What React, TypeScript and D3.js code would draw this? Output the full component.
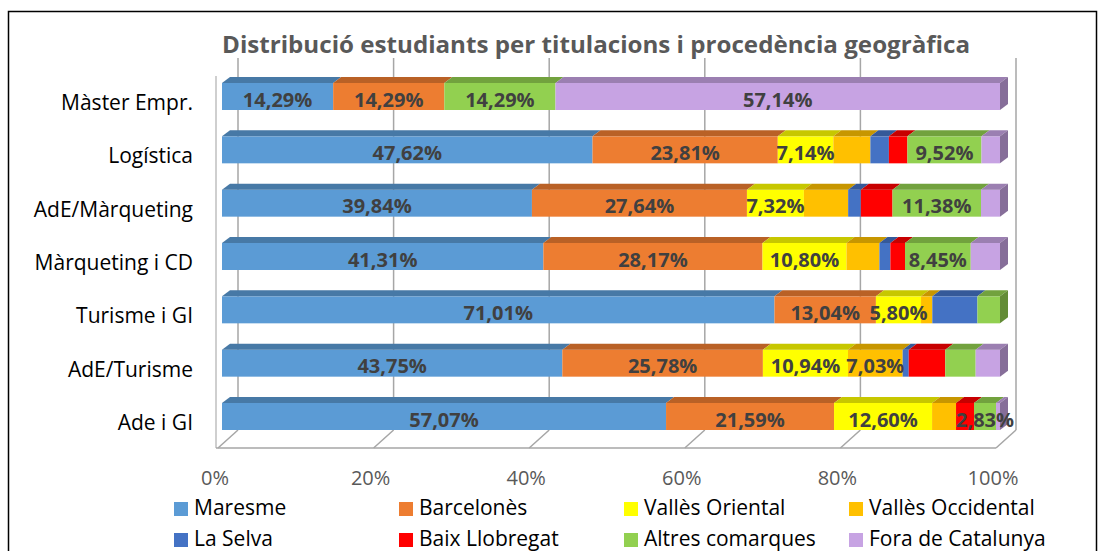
import React from "react";
import * as d3 from "d3";

const categories = ["Màster Empr.", "Logística", "AdE/Màrqueting", "Màrqueting i CD", "Turisme i GI", "AdE/Turisme", "Ade i GI"];
const seriesNames = ["Maresme", "Barcelonès", "Vallès Oriental", "Vallès Occidental", "La Selva", "Baix Llobregat", "Altres comarques", "Fora de Catalunya"];
const seriesColors = ["#5b9bd5", "#ed7d31", "#ffff00", "#ffc000", "#4472c4", "#ff0000", "#92d050", "#c7a3e3"];

const maresme = [14.29, 47.62, 39.84, 41.31, 71.01, 43.75, 57.07];
const barcelones = [14.29, 23.81, 27.64, 28.17, 13.04, 25.78, 21.59];
const vallesOriental = [0, 7.14, 7.32, 10.8, 5.8, 10.94, 12.6];
const vallesOccidental = [0, 4.76, 5.69, 4.23, 1.45, 7.03, 3.08];
const laSelva = [0, 2.38, 1.63, 1.41, 5.8, 0.78, 0];
const baixLlobregat = [0, 2.38, 4.07, 1.88, 0, 4.69, 2.31];
const altresComarques = [14.29, 9.52, 11.38, 8.45, 2.9, 3.91, 2.83];
const foraCatalunya = [57.14, 2.38, 2.44, 3.76, 0, 3.13, 0.51];

// which series carry a data label, per category
const labelledSeries = [
  ["Maresme", "Barcelonès", "Altres comarques", "Fora de Catalunya"],
  ["Maresme", "Barcelonès", "Vallès Oriental", "Altres comarques"],
  ["Maresme", "Barcelonès", "Vallès Oriental", "Altres comarques"],
  ["Maresme", "Barcelonès", "Vallès Oriental", "Altres comarques"],
  ["Maresme", "Barcelonès", "Vallès Oriental"],
  ["Maresme", "Barcelonès", "Vallès Oriental", "Vallès Occidental"],
  ["Maresme", "Barcelonès", "Vallès Oriental", "Altres comarques"],
];

const xTicks = [0, 20, 40, 60, 80, 100];
const title = "Distribució estudiants per titulacions i procedència geogràfica";

const seriesValues = [maresme, barcelones, vallesOriental, vallesOccidental, laSelva, baixLlobregat, altresComarques, foraCatalunya];

const FONT = "'Open Sans', 'Liberation Sans', sans-serif";

export default function App() {
  const rows = categories.map((c, i) => {
    const r: any = { category: c };
    seriesNames.forEach((s, j) => (r[s] = seriesValues[j][i]));
    return r;
  });
  const stacked = d3.stack().keys(seriesNames).offset(d3.stackOffsetExpand)(rows);

  const x = d3.scaleLinear().domain([0, 1]).range([222, 1000]);
  const xPct = d3.scaleLinear().domain([0, 100]).range([222, 1000]);
  const y = d3.scalePoint().domain(categories).range([83, 403]);
  const barH = 27;
  const dx = 8;
  const dy = 6;

  const backOff = 16; // back wall offset
  const gridTop = 58;
  const floorBack = 430;
  const floorFront = 448;

  const fmt = (v: number) => v.toFixed(2).replace(".", ",") + "%";

  const lastIdx = categories.map((_, i) => {
    let k = -1;
    seriesNames.forEach((_, j) => {
      if (seriesValues[j][i] > 0) k = j;
    });
    return k;
  });

  return (
    <svg width={1105} height={551} style={{ position: "absolute", left: 0, top: 0, background: "#fff" }}>
      <rect x={8.5} y={11.5} width={1088} height={600} fill="#fff" stroke="#000" strokeWidth={1.5} />
      <text x={596} y={53} textAnchor="middle" fontFamily={FONT} fontWeight="bold" fontSize={23} fill="#595959" textLength={748} lengthAdjust="spacingAndGlyphs">
        {title}
      </text>

      {/* back wall gridlines */}
      {xTicks.map((t) => (
        <line key={"g" + t} x1={xPct(t) + backOff} x2={xPct(t) + backOff} y1={gridTop} y2={floorBack} stroke="#a6a6a6" strokeWidth={1.5} />
      ))}
      {/* left wall front edge */}
      <line x1={xPct(0) - 6} x2={xPct(0) - 6} y1={76} y2={floorFront} stroke="#bfbfbf" strokeWidth={1.5} />
      {/* floor */}
      {xTicks.map((t) => (
        <line key={"f" + t} x1={xPct(t) - 4} y1={floorFront} x2={xPct(t) + backOff} y2={floorBack} stroke="#a6a6a6" strokeWidth={1.5} />
      ))}
      <line x1={xPct(0) - 6} x2={xPct(100) - 4} y1={floorFront} y2={floorFront} stroke="#a6a6a6" strokeWidth={1.5} />

      {/* bars */}
      {categories.map((c, i) => {
        const top = y(c) as number;
        return (
          <g key={c}>
            {stacked.map((s, j) => {
              const d = s[i];
              const x0 = x(d[0]);
              const x1 = x(d[1]);
              if (x1 - x0 <= 0) return null;
              const col = d3.color(seriesColors[j])!;
              const topCol = col.darker(0.7).formatHex();
              const sideCol = col.darker(1.1).formatHex();
              return (
                <g key={j}>
                  <rect x={x0} y={top} width={x1 - x0} height={barH} fill={seriesColors[j]} />
                  <polygon points={`${x0},${top} ${x0 + dx},${top - dy} ${x1 + dx},${top - dy} ${x1},${top}`} fill={topCol} />
                  {j === lastIdx[i] && (
                    <polygon points={`${x1},${top} ${x1 + dx},${top - dy} ${x1 + dx},${top + barH - dy} ${x1},${top + barH}`} fill={sideCol} />
                  )}
                </g>
              );
            })}
            {stacked.map((s, j) => {
              if (!labelledSeries[i].includes(seriesNames[j])) return null;
              const d = s[i];
              const cx = (x(d[0]) + x(d[1])) / 2;
              return (
                <text key={"l" + j} x={cx} y={top + 23.5} textAnchor="middle" fontFamily={FONT} fontWeight="bold" fontSize={20} fill="#404040">
                  {fmt(seriesValues[j][i])}
                </text>
              );
            })}
            <text x={193} y={top + 27} textAnchor="end" fontFamily={FONT} fontSize={21} fill="#000">
              {c}
            </text>
          </g>
        );
      })}

      {/* x axis labels */}
      {xTicks.map((t) => (
        <text key={"t" + t} x={xPct(t) - 7} y={485} textAnchor="middle" fontFamily={FONT} fontSize={20} fill="#595959">
          {t + "%"}
        </text>
      ))}

      {/* legend */}
      {seriesNames.map((s, j) => {
        const col = j % 4;
        const row = Math.floor(j / 4);
        const lx = 174 + col * 225;
        const ly = 502 + row * 31;
        return (
          <g key={"lg" + s}>
            <rect x={lx} y={ly} width={14} height={14} fill={seriesColors[j]} />
            <text x={lx + 20} y={ly + 13} fontFamily={FONT} fontSize={21} fill="#000">
              {s}
            </text>
          </g>
        );
      })}
    </svg>
  );
}
